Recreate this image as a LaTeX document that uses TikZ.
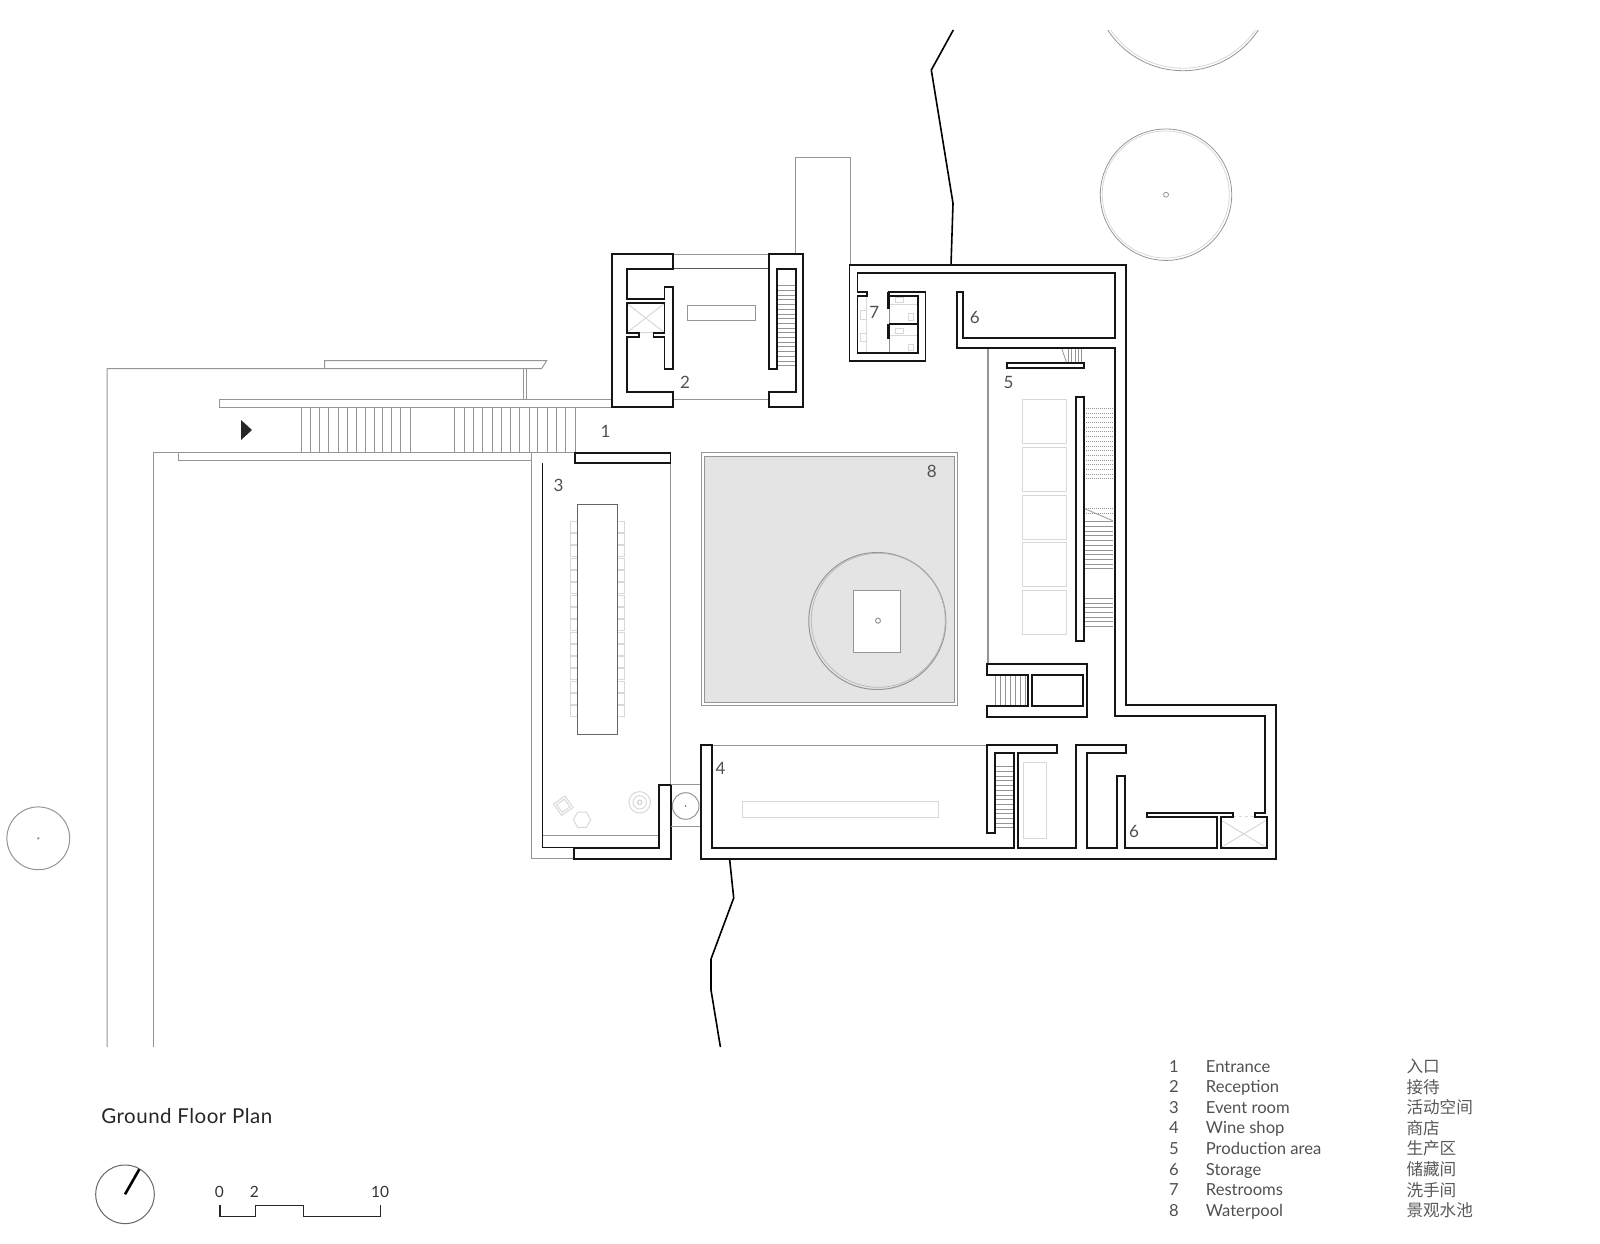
\documentclass[tikz,border=0pt]{standalone}
\usepackage{fontspec}
\setmainfont{Lato}
\newfontfamily\cjkfont{Noto Sans CJK SC}
\newfontfamily\titlefont[LetterSpace=2.4]{Lato}
\usetikzlibrary{shapes,positioning,calc}
\definecolor{wallblack}{HTML}{151515}
\definecolor{planline}{HTML}{959595}
\definecolor{paleline}{HTML}{D8D8D8}
\definecolor{poolgray}{HTML}{E4E4E5}
\definecolor{labelgray}{HTML}{505050}
\tikzset{
    wall/.style={draw=wallblack, line width=1.65pt, line join=miter},
    planedge/.style={draw=planline, line width=1pt},
    paleedge/.style={draw=paleline, line width=1pt},
    stairline/.style={draw=planline, line width=0.8pt},
    roomnum/.style={text=labelgray, font=\fontsize{17}{17}\selectfont, inner sep=0pt},
    legendtext/.style={text=labelgray, font=\fontsize{16.6}{17}\selectfont, inner sep=0pt, anchor=base west},
    legendcjk/.style={text=black!65, font=\cjkfont\fontsize{16.6}{17}\selectfont, inner sep=0pt, anchor=base west},
    scalenum/.style={text=black!80, font=\fontsize{15.5}{16}\selectfont, inner sep=0pt, anchor=base}
}

\begin{document}
\begin{tikzpicture}[x=1pt, y=-1pt]
    \useasboundingbox (0,0) rectangle (1600,1243);

    % site
    \draw[planedge] (107,1047) -- (107,368.7) -- (541.6,368.7) -- (546.6,360.7) -- (324.6,360.7) -- (324.6,368.7);
    \draw[planedge] (523.6,368.7) -- (523.6,399.7) (526.3,368.7) -- (526.3,399.7);
    \draw[planedge] (153.2,1047) -- (153.2,452.7) -- (574.9,452.7);
    \draw[planedge] (219.7,407.3) rectangle (611.8,399.7);
    \draw[planedge] (178,452.7) -- (178,460.3) -- (531.7,460.3);
    \draw[planedge] (531.7,452.7) -- (531.7,858.7) -- (574.3,858.7);
    \foreach \x in {300.9,310.1,319.6,328.8,338,347.2,356.7,365.5,373.9,382.4,391.6,400.8,410}
        \draw[stairline] (\x,407.3) -- (\x,452.7);
    \foreach \x in {454.7,464.3,473.5,482.7,491.9,501.4,510.2,519.8,529,537.8,546.9,556.5,565.7,574.9}
        \draw[stairline] (\x,407.3) -- (\x,452.7);
    \fill[black!85] (241,420) -- (252,430) -- (241,440) -- cycle;

    \draw[black, line width=1.6pt] (953.3,30) -- (931.3,70) -- (953,203.3) -- (951,265);
    \draw[black, line width=1.6pt] (729.6,859) -- (733.7,898) -- (711,959) -- (711,990) -- (720.4,1047);

    % trees
    \draw[planedge] (38.3,838.3) circle (31.4);
    \fill[planline] (38.3,838.3) circle (1.3);
    \draw[planedge, line width=0.8pt] (1166,194.7) circle (65.7);
    \draw[paleedge, line width=0.8pt] (1165.7,194.5) circle (63.5);
    \draw[planedge, line width=0.8pt] (1166,194.7) circle (2.5);
    \begin{scope}
        \clip (1080,30) rectangle (1280,100);
        \draw[planedge, line width=0.8pt] (1183,-19.3) circle (90);
        \draw[paleedge, line width=0.8pt] (1183,-19.3) circle (87.5);
    \end{scope}

    % waterpool
    \draw[planedge] (701,452.7) rectangle (957,705);
    \draw[planedge, fill=poolgray] (704,456.7) rectangle (954,702.7);
    \draw[planedge] (877.3,621) circle (68.5);
    \draw[draw=planline!70, line width=0.7pt] (878.3,620.3) circle (67);
    \draw[planedge, line width=1.2pt, fill=white] (853.7,590.3) rectangle (900.3,652.3);
    \draw[planedge] (878,620.7) circle (2.5);

    % reception
    \draw[planedge] (672.9,254) -- (769.3,254);
    \draw[planedge] (672.9,399.3) -- (769.3,399.3);
    \draw[planedge, draw=black!65] (672.9,268.7) -- (769.3,268.7);
    \draw[planedge] (795.4,254) -- (795.4,157.3) -- (850.4,157.3) -- (850.4,264.7);
    \draw[planedge] (687.1,305.3) rectangle (755.4,320.7);
    \draw[paleedge] (626.8,303.3) -- (664.6,332.7) (664.6,303.3) -- (626.8,332.7) (638.9,332.7) -- (653.6,332.7);
    \foreach \y in {285.7,290.4,...,369}
        \draw[stairline] (776.8,\y) -- (795.7,\y);
    \draw[wall] (672.9,254) -- (611.8,254) -- (611.8,407) -- (672.9,407) -- (672.9,391.7) -- (626.8,391.7) -- (626.8,336.7) -- (638.9,336.7) -- (638.9,332.7) -- (626.8,332.7) -- (626.8,303.3) -- (664.6,303.3) -- (664.6,332.7) -- (653.6,332.7) -- (653.6,336.7) -- (664.6,336.7) -- (664.6,369) -- (672.9,369) -- (672.9,287) -- (664.6,287) -- (664.6,299.3) -- (626.8,299.3) -- (626.8,268.7) -- (672.9,268.7) -- cycle;
    \draw[wall] (769.3,254) -- (803.2,254) -- (803.2,407) -- (769.3,407) -- (769.3,391.7) -- (795.7,391.7) -- (795.7,269) -- (776.8,269) -- (776.8,369) -- (769.3,369) -- cycle;

    % event room
    \draw[planedge] (670.2,463.3) -- (670.2,784.7);
    \draw[planedge] (542,835.3) -- (659.3,835.3);
    \foreach \n in {0,...,15} {
        \draw[paleedge] (577.7,{521.3+12.3*\n}) rectangle (570.3,{532.3+12.3*\n});
        \draw[paleedge] (617,{521.3+12.3*\n}) rectangle (624.7,{532.3+12.3*\n});
    }
    \draw[planedge, fill=white, draw=black!60] (577.7,504.3) rectangle (617,734.7);
    \node[paleedge, minimum size=14pt, inner sep=0pt, rotate=35] (vaseouter) at (563.3,805.7) {};
    \node[paleedge, minimum size=9.5pt, inner sep=0pt, rotate=35] (vaseinner) at (563.3,805.7) {};
    \node[paleedge, regular polygon, regular polygon sides=6, minimum size=17.5pt, inner sep=0pt] (stool) at (582,819.7) {};
    \draw[paleedge] (639.7,802.3) circle (10.7);
    \draw[paleedge] (639.7,802.3) circle (6.7);
    \draw[paleedge, line width=1.4pt] (639.7,802.3) circle (2.2);
    \draw[wall] (574.9,452.7) rectangle (670.6,463.3);
    \draw[wall, line width=1.1pt] (542.3,463.3) -- (542.3,847.7) -- (574.3,847.7);
    \draw[wall] (574.3,847.7) -- (659.3,847.7) -- (659.3,784.7) -- (670.7,784.7) -- (670.7,858.7) -- (574.3,858.7) -- cycle;

    % link between rooms
    \draw[planedge] (670.7,784.7) -- (701,784.7) (670.7,826.7) -- (701,826.7);
    \draw[planedge] (685.7,806) circle (13.3);
    \fill[black!70] (685.7,806) circle (0.8);

    % wine shop and stairs
    \draw[planedge] (711.7,745.7) -- (987.3,745.7);
    \draw[paleedge] (742.3,801.7) rectangle (938,817);
    \draw[paleedge] (1023.3,762) rectangle (1046,838.3);
    \foreach \y in {766.7,771.4,...,831}
        \draw[stairline] (995.3,\y) -- (1013.7,\y);

    % production area
    \draw[planedge, line width=1.3pt] (988,348.3) -- (988,664);
    \foreach \y in {399.3,447,495,542.7,590.3}
        \draw[paleedge] (1022.7,\y) rectangle (1066.7,\y+44);
    \foreach \y in {408.3,413,...,479}
        \draw[stairline, dash pattern=on 1pt off 1pt] (1086,\y) -- (1112.7,\y);
    \foreach \y in {508.7,513.4}
        \draw[stairline, dash pattern=on 1pt off 1pt] (1086,\y) -- (1112.7,\y);
    \draw[stairline] (1084.7,508.7) -- (1112.7,520.7);
    \foreach \y in {521.7,526.4,...,569}
        \draw[stairline] (1084.7,\y) -- (1112.7,\y);
    \foreach \y in {598.3,603,...,627}
        \draw[stairline] (1084.7,\y) -- (1112.7,\y);
    \foreach \x in {1068.3,1071.7,1075,1078.3,1081.7}
        \draw[stairline] (\x,348.3) -- (\x,363);
    \draw[stairline] (1061.7,348.3) -- (1066.7,363);
    \foreach \x in {995,1000,...,1025}
        \draw[stairline] (\x,675) -- (\x,705.7);
    \draw[wall] (1076,396.7) rectangle (1084.3,641.3);
    \draw[wall] (1007.3,363) rectangle (1084.3,368.3);
    \draw[wall] (987.3,664) -- (1087.3,664) -- (1087.3,716.7) -- (987.3,716.7) -- (987.3,705.7) -- (1027.7,705.7) -- (1027.7,675) -- (987.3,675) -- cycle;
    \draw[wall] (1032.3,675) rectangle (1082.7,705.7);

    % restrooms
    \draw[paleedge] (866.7,296) -- (866.7,353.3);
    \draw[paleedge] (889,304.3) -- (917.9,304.3) (889,335.3) -- (917.9,335.3);
    \draw[planedge] (889,309) -- (889,324) (889,339.3) -- (889,353.3);
    \draw[paleedge] (895,297.3) rectangle (903.3,302.7);
    \draw[paleedge] (895,328.3) rectangle (903.3,333.3);
    \draw[paleedge] (908.3,313.3) rectangle (913.3,320);
    \draw[paleedge] (908.3,344) rectangle (913.3,350);
    \draw[paleedge] (860.7,310) rectangle (866.7,319.3);
    \draw[paleedge] (860.7,333.3) rectangle (866.7,341.7);
    \draw[wallblack, line width=3pt] (888.8,291.7) -- (888.8,309);
    \draw[wallblack, line width=3pt] (888.8,324) -- (888.8,339.3);
    \draw[wallblack, line width=2.4pt] (888.8,324) -- (917.9,324);

    % lift by the storage
    \draw[paleedge] (1220.7,820) -- (1266.7,847.7) (1266.7,820) -- (1220.7,847.7);
    \draw[paleedge, dashed] (1232.7,816.5) -- (1255.3,816.5);

    % main wall
    \draw[wall] (1146.7,812.7) -- (1232.7,812.7) -- (1232.7,817.3) -- (1220.7,817.3) -- (1220.7,847.7) -- (1266.7,847.7) -- (1266.7,817.3) -- (1255.3,817.3) -- (1255.3,812.7) -- (1265.3,812.7) -- (1265.3,716) -- (1114.7,716) -- (1114.7,348.3) -- (956.8,348.3) -- (956.8,291.7) -- (962.9,291.7) -- (962.9,337.7) -- (1115,337.7) -- (1115,272.7) -- (857.5,272.7) -- (857.5,291.7) -- (867.1,291.7) -- (867.1,296) -- (857.5,296) -- (857.5,353.3) -- (917.9,353.3) -- (917.9,296) -- (888.6,296) -- (888.6,291.7) -- (925.4,291.7) -- (925.4,361) -- (849.6,361) -- (849.6,264.7) -- (1125.7,264.7) -- (1125.7,705.3) -- (1276.3,705.3) -- (1276.3,858.7) -- (701,858.7) -- (701,745) -- (711.7,745) -- (711.7,847.7) -- (1013.7,847.7) -- (1013.7,752.7) -- (995.3,752.7) -- (995.3,832.7) -- (987.3,832.7) -- (987.3,745) -- (1056.7,745) -- (1056.7,752.7) -- (1018.3,752.7) -- (1018.3,847.7) -- (1076.3,847.7) -- (1076.3,745) -- (1125.7,745) -- (1125.7,752.7) -- (1086.7,752.7) -- (1086.7,847.7) -- (1117.3,847.7) -- (1117.3,775.7) -- (1125.3,775.7) -- (1125.3,847.7) -- (1216.7,847.7) -- (1216.7,817.3) -- (1146.7,817.3) -- cycle;

    % room numbers
    \node[roomnum] (num1) at (605.5,431) {1};
    \node[roomnum] (num2) at (685,382.3) {2};
    \node[roomnum] (num3) at (558.5,485.5) {3};
    \node[roomnum] (num4) at (720.6,768) {4};
    \node[roomnum] (num5) at (1008.6,382.3) {5};
    \node[roomnum] (num6) at (974.8,317) {6};
    \node[roomnum] (num6b) at (1134,831) {6};
    \node[roomnum] (num7) at (874.3,312.3) {7};
    \node[roomnum] (num8) at (931.8,471) {8};

    % legend
    \foreach \num/\eng/\chn [count=\row from 0] in {1/Entrance/入口, 2/Reception/接待, 3/Event room/活动空间, 4/Wine shop/商店, 5/Production area/生产区, 6/Storage/储藏间, 7/Restrooms/洗手间, 8/Waterpool/景观水池} {
        \node[legendtext] (legnum\num) at (1169,{1072+20.6*\row}) {\num};
        \node[legendtext] (legeng\num) at (1205.7,{1072+20.6*\row}) {\eng};
        \node[legendcjk] (legchn\num) at (1406.3,{1072.5+20.6*\row}) {\chn};
    }

    % title, north and scale
    \node[text=black!85, font=\titlefont\fontsize{20.5}{20}\selectfont, inner sep=0pt, anchor=base west] (title) at (101.2,1123.8) {Ground Floor Plan};
    \draw[draw=black!60, line width=1pt] (125,1194.3) circle (29.3);
    \coordinate (northfoot) at (125,1194.3);
    \coordinate (northtip) at (139.3,1169.3);
    \draw[black, line width=2.6pt] (northfoot) -- (northtip);
    \node[scalenum] (scale0) at (219.3,1197.5) {0};
    \node[scalenum] (scale2) at (254.3,1197.5) {2};
    \node[scalenum] (scale10) at (380,1197.5) {10};
    \draw[black!85, line width=1.3pt] (220,1204.5) -- (220,1216.7) -- (255.3,1216.7) -- (255.3,1205.3) -- (303.3,1205.3) -- (303.3,1216.7) -- (380.7,1216.7) -- (380.7,1204.5);
\end{tikzpicture}
\end{document}
